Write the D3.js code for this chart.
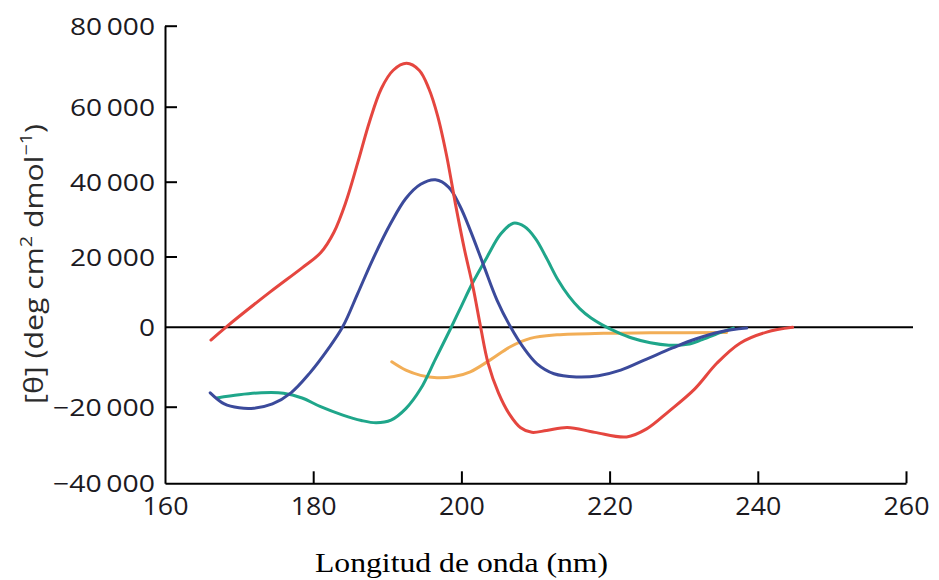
<!DOCTYPE html>
<html>
<head>
<meta charset="utf-8">
<script src="https://cdn.jsdelivr.net/npm/d3@7"></script>
<style>
  body { margin: 0; background: #fff; }
  svg { display: block; }
</style>
</head>
<body>
<svg id="chart" width="939" height="580"></svg>
<script>
// wavelength (nm) and molar ellipticity for each curve
const redWl = [166.2, 168.2, 174.2, 178.5, 181, 182.8, 184.4, 186, 187.6, 189.2, 190.8, 192.6, 194.3, 195.6, 196.8, 198, 199.2, 200.4, 201.6, 202.6, 203.6, 205, 206.5, 208, 209.5, 211.5, 214.3, 218, 222.3, 225, 228, 231.5, 234.5, 237.6, 241.2, 244.7];
const redVal = [-3200, 0, 10000, 16800, 21000, 26500, 34500, 45000, 56000, 64500, 69000, 70700, 69000, 64500, 57500, 47000, 34000, 22000, 11000, 0, -9000, -16500, -22000, -25500, -26700, -26200, -25400, -26700, -27900, -25800, -21200, -15500, -9000, -4000, -1200, 0];

const blueWl = [166.1, 168, 170, 172, 174.5, 177, 179.5, 182, 184, 186, 188, 190.5, 192.5, 194.5, 196.5, 198.3, 199.8, 201.2, 203, 204.8, 206.6, 208.4, 210.2, 212.5, 215.5, 218.5, 221.5, 225, 228.5, 231.5, 235, 238.5];
const blueVal = [-16500, -19300, -20300, -20400, -19300, -16500, -11600, -5500, 200, 9500, 19000, 29000, 35500, 39300, 40500, 38500, 33500, 27000, 17500, 7700, 200, -5200, -9200, -11700, -12500, -12200, -10800, -8000, -5200, -3000, -1100, -200];

const tealWl = [167, 170, 173, 176, 178.5, 181, 184, 186.5, 188.5, 190.5, 192.5, 194.5, 196.5, 198.5, 200, 201.5, 203.5, 205.3, 207, 208.5, 210, 211.5, 213, 214.5, 216, 217.5, 219, 221, 223, 225.5, 228, 230.5, 232.5, 235, 236.7];
const tealVal = [-17800, -17000, -16500, -16600, -17800, -20000, -22200, -23600, -24200, -23500, -20500, -15500, -8000, -500, 6000, 12500, 20000, 26000, 28900, 28000, 24800, 19500, 13500, 8800, 5200, 2600, 700, -1200, -2700, -3900, -4500, -4300, -3100, -1300, -200];

const orangeWl = [190.6, 192.5, 194.5, 196.7, 199, 201.2, 203.9, 206.6, 209.3, 212.9, 219.2, 225.5, 235.8];
const orangeVal = [-8700, -10800, -12100, -12700, -12400, -11200, -8200, -4900, -2800, -1900, -1500, -1400, -1300];

const seriesColors = ["#e5463f", "#3b4a9b", "#1fa68a", "#f2ae57"];

const xTicks = [160, 180, 200, 220, 240, 260];
const yTicks = [-40000, -20000, 0, 20000, 40000, 60000, 80000];

const xTitle = "Longitud de onda (nm)";

// layout
const svg = d3.select("#chart");
const left = 165, right = 906;
// the scanned axis is slightly uneven, so the y scale follows each tick
const yTickPos = [483.3, 406.7, 327.3, 256.5, 181.7, 106.7, 25.7];

const x = d3.scaleLinear().domain([160, 260]).range([left, right]);
const y = d3.scaleLinear().domain(yTicks).range(yTickPos);

const textColor = "#1c1a1f";
const sans = "'Open Sans', 'Noto Sans', sans-serif";

// zero line
svg.append("line")
  .attr("x1", left).attr("x2", 913)
  .attr("y1", y(0)).attr("y2", y(0))
  .attr("stroke", "#000").attr("stroke-width", 2);

// curves
const line = d3.line()
  .x(d => x(d[0]))
  .y(d => y(d[1]))
  .curve(d3.curveCatmullRom.alpha(0.5));

const series = [
  d3.zip(redWl, redVal),
  d3.zip(blueWl, blueVal),
  d3.zip(tealWl, tealVal),
  d3.zip(orangeWl, orangeVal)
];

// draw order: orange under the others
[3, 2, 1, 0].forEach(i => {
  svg.append("path")
    .datum(series[i])
    .attr("fill", "none")
    .attr("stroke", seriesColors[i])
    .attr("stroke-width", 3)
    .attr("stroke-linecap", "round")
    .attr("d", line);
});

const fmt = d => d3.format(",")(d).replace(",", "\u2009");

// y axis
const yAxis = svg.append("g")
  .attr("transform", `translate(${left},0)`)
  .call(d3.axisLeft(y).tickValues(yTicks).tickFormat(fmt).tickSizeInner(-12).tickSizeOuter(0).tickPadding(10));

yAxis.select(".domain").attr("stroke", "#000").attr("stroke-width", 2);
yAxis.selectAll(".tick line").attr("stroke", "#000").attr("stroke-width", 2);
yAxis.selectAll(".tick text")
  .attr("fill", textColor)
  .style("font-family", sans)
  .style("font-size", "24px")
  .attr("dy", "0.36em")
  .each(function (d) {
    const w = d === 0 ? 16 : (d < 0 ? 102 : 85);
    d3.select(this).attr("textLength", w).attr("lengthAdjust", "spacingAndGlyphs");
  });
// hide the tick drawn on top of the zero line and bottom axis
yAxis.selectAll(".tick").filter(d => d === 0 || d === -40000).select("line").remove();

// x axis
const xAxis = svg.append("g")
  .attr("transform", `translate(0,${y(-40000)})`)
  .call(d3.axisBottom(x).tickValues(xTicks).tickSizeInner(-12).tickSizeOuter(0).tickPadding(14));

xAxis.select(".domain").attr("stroke", "#000").attr("stroke-width", 2);
xAxis.selectAll(".tick line").attr("stroke", "#000").attr("stroke-width", 2);
xAxis.selectAll(".tick").filter(d => d === 160).select("line").remove();
xAxis.selectAll(".tick text")
  .attr("fill", textColor)
  .style("font-family", sans)
  .style("font-size", "25px")
  .attr("textLength", 46)
  .attr("lengthAdjust", "spacingAndGlyphs");

// x title
svg.append("text")
  .attr("x", (315 + 608) / 2)
  .attr("y", 572)
  .attr("text-anchor", "middle")
  .attr("fill", "#000")
  .style("font-family", "'Liberation Serif', 'Times New Roman', serif")
  .style("font-size", "27px")
  .attr("textLength", 293)
  .attr("lengthAdjust", "spacingAndGlyphs")
  .text(xTitle);

// y title
const yTitle = svg.append("text")
  .attr("transform", "translate(43,264) rotate(-90)")
  .attr("text-anchor", "middle")
  .attr("fill", "#2b2b2b")
  .style("font-family", sans)
  .style("font-size", "26px")
  .attr("textLength", 280)
  .attr("lengthAdjust", "spacingAndGlyphs");

yTitle.append("tspan").text("[θ] (deg cm");
yTitle.append("tspan").attr("baseline-shift", "super").style("font-size", "17px").text("2");
yTitle.append("tspan").text(" dmol");
yTitle.append("tspan").attr("baseline-shift", "super").style("font-size", "17px").text("−1");
yTitle.append("tspan").text(")");
</script>
</body>
</html>
